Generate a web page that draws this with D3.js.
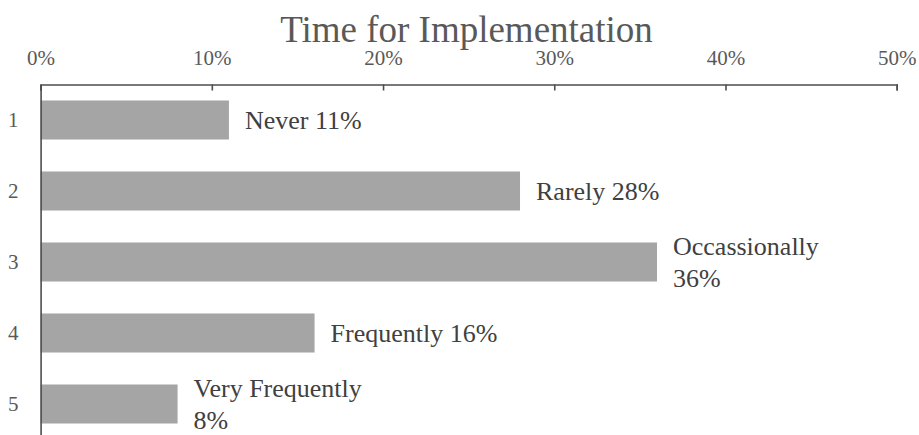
<!DOCTYPE html>
<html>
<head>
<meta charset="utf-8">
<script src="https://cdn.jsdelivr.net/npm/d3@7/dist/d3.min.js"></script>
<style>
  html, body { margin: 0; padding: 0; background: #fff; }
  svg { display: block; font-family: "Liberation Serif", "Times New Roman", serif; }
</style>
</head>
<body>
<svg id="chart" width="919" height="435"></svg>
<script>
// Survey responses for how often time is given for implementation
const categories = ["1", "2", "3", "4", "5"];
const responses = ["Never", "Rarely", "Occassionally", "Frequently", "Very Frequently"];
const shares = [11, 28, 36, 16, 8];
const xTicks = [0, 10, 20, 30, 40, 50];
const titleText = "Time for Implementation";

const W = 919, H = 435;
const svg = d3.select("#chart");

const x = d3.scaleLinear().domain([0, 50]).range([40.6, 896.7]);
const y = d3.scaleBand().domain(categories).range([84.5, 439.5])
  .paddingInner(0.45).paddingOuter(0.225);

// Title
svg.append("text")
  .attr("x", 466.5).attr("y", 41.5)
  .attr("text-anchor", "middle")
  .attr("fill", "#595959")
  .style("font-size", "37px")
  .text(titleText);

// Bars
svg.append("g").selectAll("rect")
  .data(categories)
  .join("rect")
  .attr("x", x(0))
  .attr("y", d => y(d))
  .attr("width", (d, i) => x(shares[i]) - x(0))
  .attr("height", y.bandwidth())
  .attr("fill", "#a5a5a5");

// Top value axis, ticks pointing into the plot
const xAxis = d3.axisTop(x)
  .tickValues(xTicks)
  .tickFormat(d => d + "%")
  .tickSizeInner(-6)
  .tickSizeOuter(-6)
  .tickPadding(20);

const gx = svg.append("g")
  .attr("transform", "translate(0,84.5)")
  .call(xAxis);
gx.select(".domain").attr("stroke", "#4d4d4d").attr("stroke-width", 1.6);
gx.selectAll(".tick line").attr("stroke", "#4d4d4d").attr("stroke-width", 1.6);
gx.selectAll(".tick text")
  .attr("fill", "#595959")
  .style("font-size", "21px")
  .style("font-family", "Liberation Serif, Times New Roman, serif");

// Left category axis, no tick marks
const yAxis = d3.axisLeft(y).tickSize(0).tickPadding(22);
const gy = svg.append("g")
  .attr("transform", "translate(" + x(0) + ",0)")
  .call(yAxis);
gy.select(".domain").attr("stroke", "#4d4d4d").attr("stroke-width", 1.6);
gy.selectAll(".tick text")
  .attr("fill", "#595959")
  .style("font-size", "21px")
  .style("font-family", "Liberation Serif, Times New Roman, serif");

// Data labels outside the bar end, wrapped when too wide
const maxLabelWidth = 185;
const lineHeight = 31.7;
const labels = svg.append("g")
  .style("font-size", "26px")
  .attr("fill", "#404040");

categories.forEach((c, i) => {
  const full = responses[i] + " " + shares[i] + "%";
  const t = labels.append("text")
    .attr("x", x(shares[i]) + 16);
  t.text(full);
  let lines = [full];
  if (t.node().getComputedTextLength() > maxLabelWidth) {
    lines = [responses[i], shares[i] + "%"];
  }
  t.text(null);
  const cy = y(c) + y.bandwidth() / 2;
  const first = cy + 9.2 - (lines.length - 1) * lineHeight / 2;
  lines.forEach((ln, k) => {
    t.append("tspan")
      .attr("x", x(shares[i]) + 16)
      .attr("y", first + k * lineHeight)
      .text(ln);
  });
});
</script>
</body>
</html>
